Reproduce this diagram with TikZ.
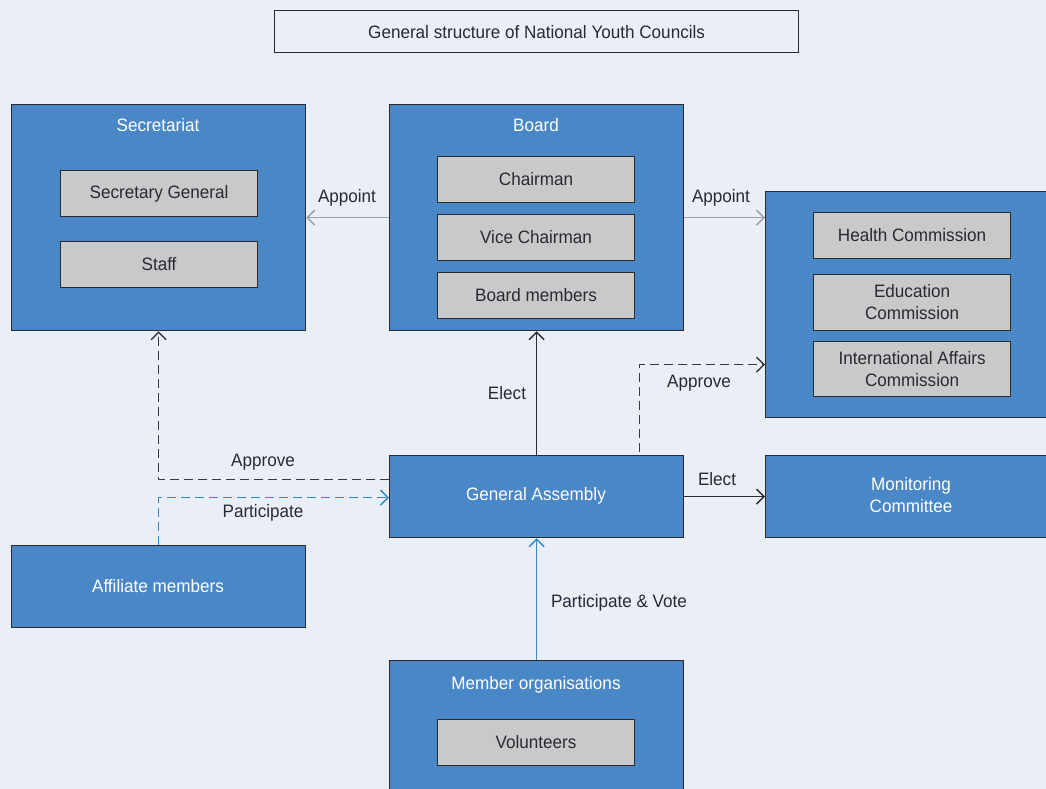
\documentclass[tikz,border=0pt]{standalone}
\usepackage{fontspec}
\setmainfont{Liberation Sans}[FakeStretch=0.95]
\usetikzlibrary{arrows.meta,calc}
\definecolor{bg}{HTML}{E9EEF7}
\definecolor{boxblue}{HTML}{4A87C7}
\definecolor{boxgray}{HTML}{C8C9CB}
\definecolor{edge}{HTML}{2B2B2E}
\definecolor{ink}{HTML}{2A2A2E}
\definecolor{lightline}{HTML}{9C9EA3}
\definecolor{blueline}{HTML}{2E8ACA}
\definecolor{dashline}{HTML}{3A3A3E}
\begin{document}
\begin{tikzpicture}[x=1pt,y=-1pt,
  font=\fontsize{18}{22}\selectfont,
  panel/.style={draw=edge, fill=boxblue, line width=1.3pt, inner sep=0pt, anchor=north west, minimum width=294pt},
  ptitle/.style={text=white, inner sep=0pt},
  item/.style={draw=edge, fill=boxgray, line width=1.1pt, text=ink, minimum width=197pt, minimum height=46pt, inner sep=0pt, align=center, anchor=north west},
  lbl/.style={text=ink, inner sep=0pt},
  tip/.style={-{Straight Barb[length=7.5pt,width=15pt,line width=1.4pt]}},
  link/.style={tip, draw=ink, line width=1.6pt},
  greylink/.style={tip, draw=lightline, line width=1.6pt},
  dlink/.style={tip, draw=dashline, line width=1.6pt, dash pattern=on 9pt off 5pt},
  bluelink/.style={tip, draw=blueline, line width=1.6pt},
  bluedlink/.style={tip, draw=blueline, line width=1.6pt, dash pattern=on 9pt off 5pt}]
\useasboundingbox (0,0) rectangle (1046,789);
\clip (0,0) rectangle (1046,789);
\fill[bg] (0,0) rectangle (1046,789);

% heading
\node[draw=edge, fill=bg, line width=1.2pt, minimum width=524pt, minimum height=42pt, anchor=north west, text=ink] (head) at (274,10) {General structure of National Youth Councils};

% secretariat
\node[panel, minimum height=226pt] (sec) at (11,104) {};
\node[ptitle] (sect) at (158,125) {Secretariat};
\node[item] (secgen) at (60,170) {Secretary General};
\node[item] (staff) at (60,241) {Staff};

% board
\node[panel, minimum height=226pt] (board) at (389,104) {};
\node[ptitle] (boardt) at (536,125) {Board};
\node[item] (chair) at (437,156) {Chairman};
\node[item] (vice) at (437,214) {Vice Chairman};
\node[item] (bmem) at (437,272) {Board members};

% commissions
\node[panel, minimum width=310pt, minimum height=226pt] (com) at (765,191) {};
\node[item, minimum height=46pt] (health) at (813,212) {Health Commission};
\node[item, minimum height=56pt] (edu) at (813,274) {Education\\Commission};
\node[item, minimum height=55pt] (intl) at (813,341) {International Affairs\\Commission};

% general assembly and monitoring
\node[panel, minimum height=82pt] (ga) at (389,455) {};
\node[ptitle] (gat) at (536,496) {General Assembly};
\node[panel, minimum width=310pt, minimum height=82pt] (mon) at (765,455) {};
\node[ptitle, align=center] (mont) at (911,495) {Monitoring\\Committee};

% affiliate members
\node[panel, minimum height=82pt] (aff) at (11,545) {};
\node[ptitle] (afft) at (158,586) {Affiliate members};

% member organisations
\node[panel, minimum height=160pt] (mem) at (389,660) {};
\node[ptitle] (memt) at (536,685) {Member organisations};
\node[item] (vol) at (437,719) {Volunteers};

% connectors
\draw[greylink] (board.west) -- (sec.east);
\node[lbl] (l1) at (347,198) {Appoint};
\draw[greylink] (board.east) -- (board.east -| com.west);
\node[lbl] (l2) at (721,198) {Appoint};

\draw[link] (ga.north) -- (board.south);
\node[lbl] (l3) at (507,393) {Elect};
\draw[link] (ga.east) -- (mon.west);
\node[lbl] (l4) at (717,479) {Elect};

\coordinate (apsrc) at ($(ga.north east)+(-45,-3)$);
\draw[dlink] (apsrc) |- ($(com.west)+(0,60)$);
\node[lbl] (l5) at (699,383) {Approve};

\draw[dlink] ($(ga.west)+(0,-17)$) -| (sec.south);
\node[lbl] (l6) at (263,462) {Approve};

\draw[bluedlink] (aff.north) |- ($(ga.west)+(0,1)$);
\node[lbl] (l7) at (263,513) {Participate};

\draw[bluelink] (mem.north) -- (ga.south);
\node[lbl] (l8) at (619,603) {Participate \& Vote};
\end{tikzpicture}
\end{document}
